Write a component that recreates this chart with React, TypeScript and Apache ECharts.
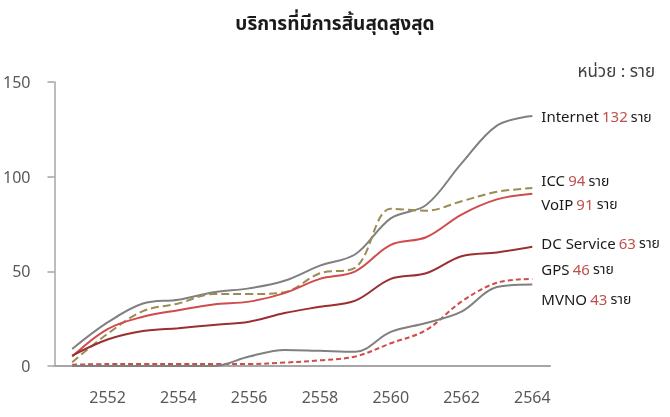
import React, { useEffect, useRef } from "react";
import * as echarts from "echarts";

const years = ["2551", "2552", "2553", "2554", "2555", "2556", "2557", "2558", "2559", "2560", "2561", "2562", "2563", "2564"];
const internet = [9, 23, 33, 35, 39, 41, 45, 53, 59, 78, 85, 107, 127, 132];
const icc = [2, 17, 29, 33, 38, 38, 39, 49, 52, 83, 82, 87, 92, 94];
const voip = [5, 19.5, 26, 29.5, 32.5, 34, 38.5, 46, 50, 64, 68, 80, 88, 91];
const dcService = [5.5, 14, 18.5, 20, 21.7, 23.4, 28, 31.3, 34.5, 46, 49, 58, 60, 63];
const gps = [0.7, 1, 1, 1, 1, 1, 1.8, 3, 5, 12, 19, 34, 44, 46];
const mvno = [0, 0, 0, 0, 0, 5, 8.5, 8, 7.5, 18, 22.7, 28.7, 41.7, 43];
const yTicks = [0, 50, 100, 150];

const FONT = "'Noto Sans', 'Noto Sans Thai', 'DejaVu Sans', sans-serif";

export default function App() {
  const ref = useRef<HTMLDivElement>(null);
  useEffect(() => {
    if (!ref.current) return;
    const chart = echarts.init(ref.current, undefined, { renderer: "svg" });
    const rich = {
      n: { color: "#1a1a1a", fontSize: 15, fontFamily: FONT },
      v: { color: "#C0504D", fontSize: 15, fontFamily: FONT },
      u: { color: "#1a1a1a", fontSize: 14, fontFamily: FONT },
    };
    const mk = (name: string, data: number[], color: string, type: any, dy: number, width = 2) => ({
      name,
      type: "line",
      data,
      smooth: 0.35,
      symbol: "none",
      lineStyle: { color, width, type },
      itemStyle: { color },
      endLabel: {
        show: true,
        distance: 9,
        offset: [0, dy],
        formatter: (p: any) => `{n|${p.seriesName}} {v|${p.value}} {u|ราย}`,
        rich,
      },
      z: 2,
    });
    chart.setOption({
      animation: false,
      textStyle: { fontFamily: FONT },
      title: {
        text: "บริการที่มีการสิ้นสุดสูงสุด",
        left: "center",
        top: 8,
        textStyle: { fontSize: 19, fontWeight: "bold", color: "#1a1a1a", fontFamily: FONT },
      },
      graphic: [
        {
          type: "text",
          right: 15,
          top: 62,
          style: { text: "หน่วย : ราย", fontSize: 17, fill: "#404040", fontFamily: FONT },
        },
      ],
      grid: { left: 52, right: 120, top: 82, bottom: 51, containLabel: false },
      xAxis: {
        type: "category",
        data: years,
        boundaryGap: true,
        axisLine: { lineStyle: { color: "#A6A6A6", width: 2 } },
        axisTick: { show: false },
        axisLabel: {
          interval: (i: number) => i % 2 === 1,
          color: "#595959",
          fontSize: 16,
          margin: 23,
          fontFamily: FONT,
        },
      },
      yAxis: {
        type: "value",
        min: yTicks[0],
        max: yTicks[yTicks.length - 1],
        interval: yTicks[1] - yTicks[0],
        axisLine: { show: true, lineStyle: { color: "#A6A6A6", width: 1.5 } },
        axisTick: { show: true, length: 7, lineStyle: { color: "#A6A6A6", width: 1.5 } },
        splitLine: { show: false },
        axisLabel: { color: "#595959", fontSize: 16, margin: 24, fontFamily: FONT },
      },
      series: [
        mk("Internet", internet, "#808080", "solid", 0),
        mk("ICC", icc, "#9A8C52", [8, 4], -8),
        mk("VoIP", voip, "#D04B4B", "solid", 10),
        mk("DC Service", dcService, "#9B2F2F", "solid", -4),
        mk("GPS", gps, "#D04B4B", [5, 3], -10),
        mk("MVNO", mvno, "#808080", "solid", 14),
      ],
    });
    return () => chart.dispose();
  }, []);
  return <div ref={ref} style={{ position: "fixed", left: 0, top: 0, width: 670, height: 417 }} />;
}
